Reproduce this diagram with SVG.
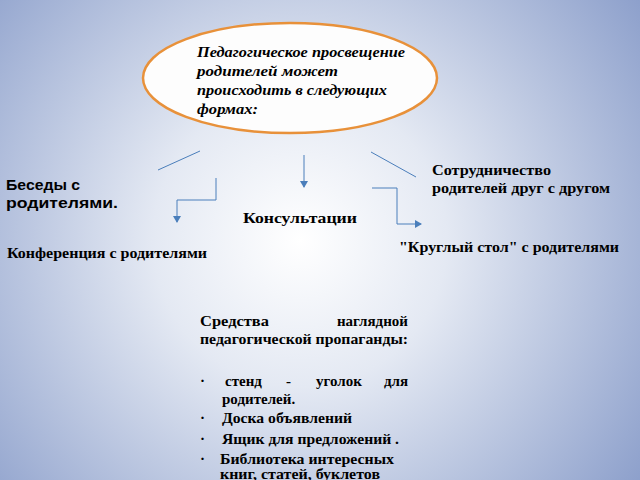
<svg xmlns="http://www.w3.org/2000/svg" width="640" height="480" viewBox="0 0 640 480">
<defs>
<radialGradient id="bg" cx="300" cy="240" r="420" gradientUnits="userSpaceOnUse">
<stop offset="0" stop-color="#ffffff"/><stop offset="0.35" stop-color="#e4e9f3"/><stop offset="1" stop-color="#8c9fcb"/>
</radialGradient>
<marker id="ar" markerWidth="8" markerHeight="8" refX="6" refY="4" orient="auto" markerUnits="userSpaceOnUse"><path d="M0,0 L7,4 L0,8 z" fill="#4a7ebb"/></marker>
<style>
.c{stroke:#4a7ebb;stroke-width:1;fill:none}
.s{font-family:"Liberation Serif",serif;font-weight:bold;font-size:15px;fill:#000}
.a{font-family:"Liberation Sans",sans-serif;font-weight:bold;font-size:14.5px;fill:#000}
.i{font-family:"Liberation Serif",serif;font-weight:bold;font-style:italic;font-size:15.5px}
</style>
</defs>
<rect width="640" height="480" fill="url(#bg)"/>
<g id="center">
<ellipse cx="290" cy="78" rx="147" ry="55" fill="#fdfdfd" stroke="#e8913a" stroke-width="2.5"/>
<text class="i" x="197" y="57" textLength="208" lengthAdjust="spacingAndGlyphs">Педагогическое просвещение</text>
<text class="i" x="197" y="76" textLength="141" lengthAdjust="spacingAndGlyphs">родителей может</text>
<text class="i" x="197" y="95" textLength="190" lengthAdjust="spacingAndGlyphs">происходить в следующих</text>
<text class="i" x="197" y="114" textLength="61" lengthAdjust="spacingAndGlyphs">формах:</text>
</g>
<g id="connectors">
<line class="c" x1="158" y1="170" x2="200" y2="151"/>
<line class="c" x1="304" y1="155" x2="304" y2="187" marker-end="url(#ar)"/>
<line class="c" x1="371" y1="152" x2="416" y2="177"/>
<polyline class="c" points="216,178 216,200 177,200 177,222" marker-end="url(#ar)"/>
<polyline class="c" points="372,188 397,188 397,224 421,224" marker-end="url(#ar)"/>
</g>
<g id="besedy"><text class="a" x="6" y="190" textLength="74" lengthAdjust="spacingAndGlyphs">Беседы с</text><text class="a" x="6" y="208" textLength="112" lengthAdjust="spacingAndGlyphs">родителями.</text></g>
<g id="konf"><text class="s" x="7" y="258" textLength="200" lengthAdjust="spacingAndGlyphs">Конференция с родителями</text></g>
<g id="kons"><text class="s" x="243" y="223" textLength="114" lengthAdjust="spacingAndGlyphs">Консультации</text></g>
<g id="sotr"><text class="s" x="432" y="175" textLength="119" lengthAdjust="spacingAndGlyphs">Сотрудничество</text><text class="s" x="432" y="193" textLength="178" lengthAdjust="spacingAndGlyphs">родителей друг с другом</text></g>
<g id="kruglyi"><text class="s" x="399" y="252" textLength="220" lengthAdjust="spacingAndGlyphs">"Круглый стол" с родителями</text></g>
<g id="sredstva">
<text class="s" x="200" y="326" textLength="69" lengthAdjust="spacingAndGlyphs">Средства</text>
<text class="s" x="408" y="326" text-anchor="end">наглядной</text>
<text class="s" x="200" y="344" textLength="208" lengthAdjust="spacingAndGlyphs">педагогической пропаганды:</text>
<text class="s" x="200" y="386">·</text>
<text class="s" x="225" y="386">стенд</text>
<text class="s" x="286" y="386">-</text>
<text class="s" x="316" y="386">уголок</text>
<text class="s" x="408" y="386" text-anchor="end">для</text>
<text class="s" x="222" y="404">родителей.</text>
<text class="s" x="200" y="423">·</text><text class="s" x="222" y="423" textLength="130" lengthAdjust="spacingAndGlyphs">Доска объявлений</text>
<text class="s" x="200" y="444">·</text><text class="s" x="222" y="444" textLength="177" lengthAdjust="spacingAndGlyphs">Ящик для предложений .</text>
<text class="s" x="200" y="464">·</text><text class="s" x="220" y="464" textLength="174" lengthAdjust="spacingAndGlyphs">Библиотека интересных</text>
<text class="s" x="220" y="479" textLength="160" lengthAdjust="spacingAndGlyphs">книг, статей, буклетов</text>
</g>
</svg>
